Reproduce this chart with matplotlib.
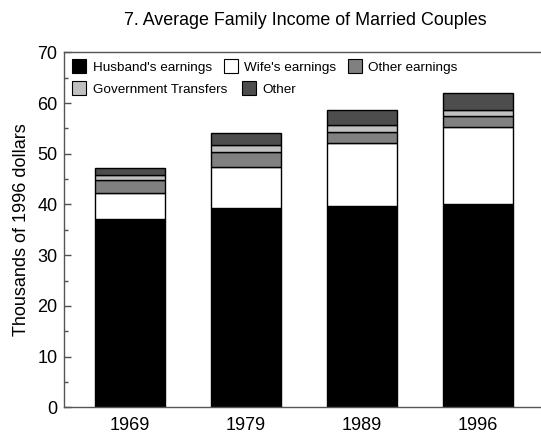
import matplotlib
matplotlib.use("Agg")
import matplotlib.pyplot as plt
from matplotlib.patches import Patch
import numpy as np

plt.rcParams['font.family'] = ['Liberation Sans', 'DejaVu Sans']

years = ["1969", "1979", "1989", "1996"]
series_names = ["Husband's earnings", "Wife's earnings", "Other earnings",
                "Government Transfers", "Other"]
husband = [37.2, 39.3, 39.6, 40.0]
wife = [5.1, 8.1, 12.5, 15.3]
other_earnings = [2.5, 3.0, 2.1, 2.2]
gov_transfers = [1.0, 1.3, 1.5, 1.1]
other = [1.3, 2.3, 2.9, 3.3]
y_ticks = [0, 10, 20, 30, 40, 50, 60, 70]

colors = ["#000000", "#ffffff", "#808080", "#c0c0c0", "#4d4d4d"]

fig = plt.figure(figsize=(5.41, 4.38), dpi=100)
ax = fig.add_axes([64/541, 30.7/438, 477/541, 355/438])

x = np.arange(len(years))
bottom = np.zeros(len(years))
handles = []
for name, vals, c in zip(series_names,
                         [husband, wife, other_earnings, gov_transfers, other],
                         colors):
    ax.bar(x, vals, width=0.6, bottom=bottom, color=c, edgecolor="black",
           linewidth=1.0, label=name)
    bottom += np.array(vals)
    handles.append(Patch(facecolor=c, edgecolor="black", linewidth=0.8, label=name))

ax.set_xlim(-0.569, 3.543)
ax.set_ylim(0, 70)
ax.set_yticks(y_ticks)
ax.set_yticks(np.arange(5, 70, 10), minor=True)
ax.set_xticks(x)
ax.set_xticklabels(years)
ax.tick_params(axis='y', which='major', direction='in', length=5, width=1,
               color='#505050', labelsize=13, pad=4.7)
ax.tick_params(axis='y', which='minor', direction='in', length=3, width=1,
               color='#505050')
ax.tick_params(axis='x', length=0, labelsize=13, pad=7)
ax.spines['right'].set_visible(False)
for s in ['left', 'bottom', 'top']:
    ax.spines[s].set_color('#555555')
    ax.spines[s].set_linewidth(1.0)
ax.set_ylabel("Thousands of 1996 dollars", fontsize=13, labelpad=5)

leg_kw = dict(loc='center left', frameon=False, fontsize=9.7, borderpad=0,
              borderaxespad=0, handlelength=1.05, handleheight=1.3,
              handletextpad=0.45)
leg1 = ax.legend(handles=handles[:3], bbox_to_anchor=(0.0174, 0.961), ncol=3,
                 columnspacing=0.9, **leg_kw)
ax.add_artist(leg1)
ax.legend(handles=handles[3:], bbox_to_anchor=(0.0174, 0.899), ncol=2,
          columnspacing=1.1, **leg_kw)

fig.text(305.7/541, 1 - 25/438, "7. Average Family Income of Married Couples",
         ha='center', va='baseline', fontsize=12.9)

fig.savefig("out.png", dpi=100)
